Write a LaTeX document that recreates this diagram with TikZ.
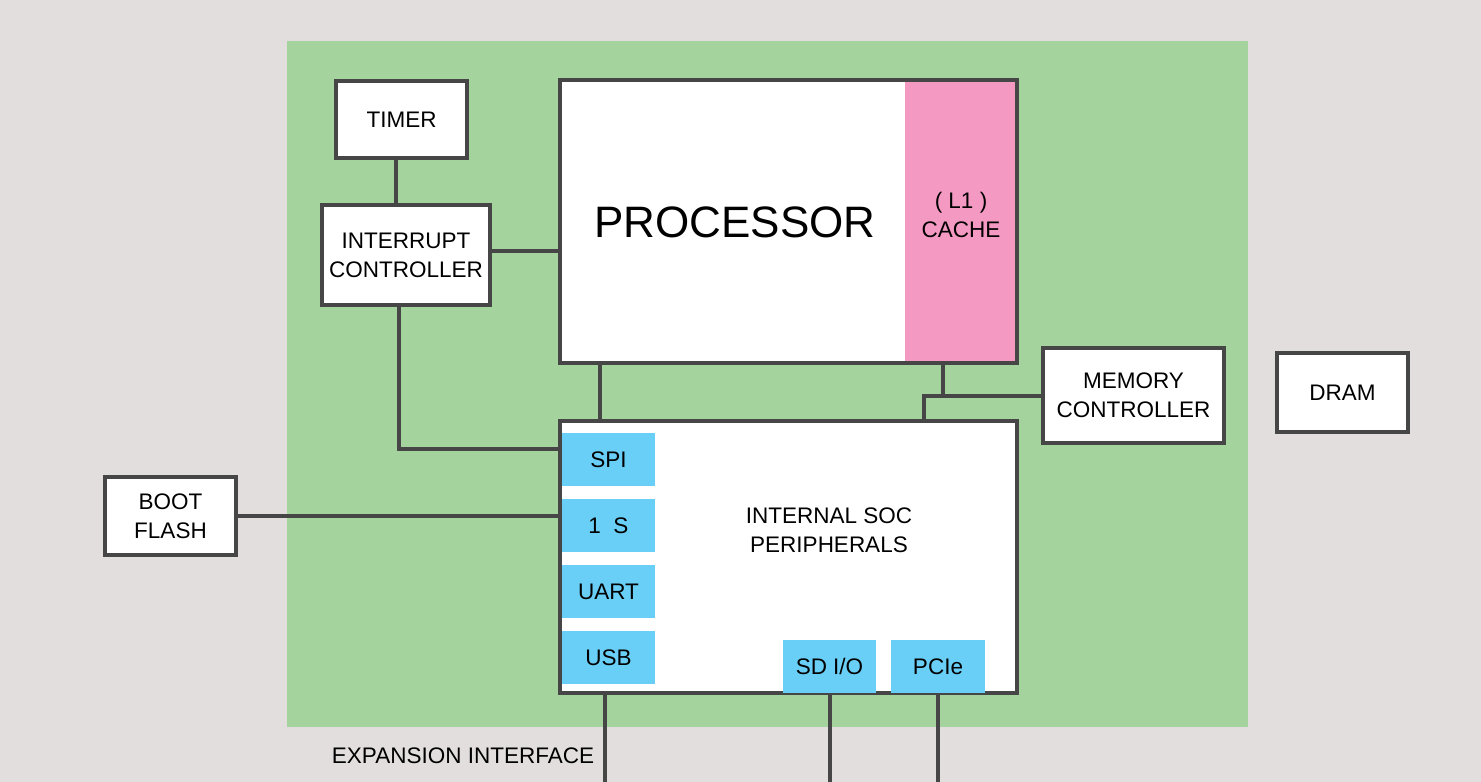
\documentclass[tikz,border=0pt]{standalone}
\usepackage{fontspec}
\setmainfont{Liberation Sans}
\usetikzlibrary{positioning}
\definecolor{bggray}{HTML}{E2DEDD}
\definecolor{socgreen}{HTML}{A4D39D}
\definecolor{cachepink}{HTML}{F49AC2}
\definecolor{portblue}{HTML}{6ACFF6}
\definecolor{wire}{HTML}{464646}

\begin{document}
\begin{tikzpicture}[x=1pt,y=-1pt,line width=4pt,draw=wire,node distance=66pt]
\tikzstyle{every node}=[font=\fontsize{22.5}{29}\selectfont,align=center,inner sep=0pt]
\tikzstyle{block}=[draw=wire,fill=white,rectangle]
\tikzstyle{port}=[fill=portblue,minimum width=93,minimum height=53]
\path[use as bounding box,fill=bggray] (0,0) rectangle (1481,782);
\node[fill=socgreen,minimum width=961,minimum height=686] (soc) at (767.5,384) {};
% blocks
\node[block,minimum width=131,minimum height=77] (timer) at (401.5,119.5) {TIMER};
\node[block,minimum width=168,minimum height=100] (ic) at (406,255) {INTERRUPT\\CONTROLLER};
\node[block,minimum width=457,minimum height=283] (cpu) at (788.5,221.5) {};
\node[fill=cachepink,minimum width=110,minimum height=279] (cache) at (960,221.5) {};
\node (cachelabel) at (961,215) {( L1 )\\CACHE};
\node[font=\fontsize{44}{50}\selectfont] (cpulabel) at (735,222) {PROCESSOR};
\node[block,minimum width=457,minimum height=272] (periph) at (788.5,557) {};
\node (periphlabel) at (829,530) {INTERNAL SOC\\PERIPHERALS};
\node[block,minimum width=181,minimum height=95] (mc) at (1133.5,395.5) {MEMORY\\CONTROLLER};
\node[block,minimum width=131,minimum height=79] (dram) at (1342.5,392.5) {DRAM};
\node[block,minimum width=131,minimum height=78] (boot) at (170.5,516) {BOOT\\FLASH};
% ports
\node[port] (spi) at (608.5,459.5) {SPI};
\node[port][below of=spi] (i2s) {1\ \ S};
\node[port][below of=i2s] (uart) {UART};
\node[port][below of=uart] (usb) {USB};
\node[port] (sdio) at (829.5,666.5) {SD I/O};
\node[port,minimum width=94][right of=sdio,node distance=108.5pt] (pcie) {PCIe};
\node (explabel) at (463,756) {EXPANSION INTERFACE};
\coordinate (expA) at (605,782);
% wires
\draw ([xshift=-5.5]timer.south) -- ([xshift=-5.5]timer.south |- ic.north);
\draw ([yshift=4]ic.east) -- ([yshift=4]ic.east -| cpu.west);
\draw ([xshift=-188.5]cpu.south) -- ([xshift=-188.5]periph.north);
\draw ([xshift=-7]ic.south) |- ([yshift=108]periph.west);
\draw (boot.east) -- (boot.east -| periph.west);
\draw ([xshift=-17]cache.south |- cpu.south) |- (mc.west);
\draw (mc.west) -| ([xshift=135.5]periph.north);
\draw (expA |- periph.south) -- (expA);
\draw (sdio.south |- periph.south) -- (sdio.south |- expA);
\draw (pcie.south |- periph.south) -- (pcie.south |- expA);
\end{tikzpicture}
\end{document}
